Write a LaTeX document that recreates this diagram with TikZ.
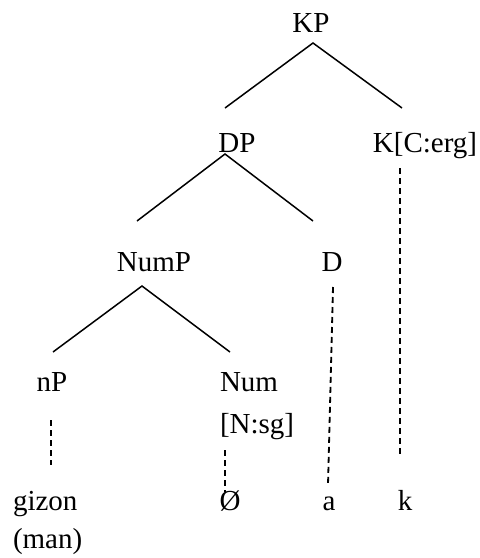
\documentclass[tikz,border=0pt]{standalone}
\usepackage{fontspec}
\setmainfont{Liberation Serif}
\begin{document}
\begin{tikzpicture}[x=1pt,y=-1pt,
  lbl/.style={inner sep=0pt,outer sep=0pt,anchor=base,font=\fontsize{29}{34}\selectfont},
  lblw/.style={lbl,anchor=base west},
  branch/.style={line width=1.5pt},
  dashline/.style={line width=1.8pt,dash pattern=on 6pt off 4pt}]
\useasboundingbox (0,0) rectangle (480,558);
% labels
\node[lbl] (KP) at (311,32) {KP};
\node[lbl] (DP) at (237,152) {DP};
\node[lbl] (K) at (425,152) {K[C:erg]};
\node[lbl] (NumP) at (154,271) {NumP};
\node[lbl] (D) at (332,271) {D};
\node[lbl] (nP) at (52,391) {nP};
\node[lblw] (Num) at (220,391) {Num};
\node[lblw] (Nsg) at (220,433) {[N:sg]};
\node[lblw] (gizon) at (13,510) {gizon};
\node[lblw] (man) at (13,548) {(man)};
\node[lbl] (zero) at (230,510) {Ø};
\node[lbl] (a) at (329,510) {a};
\node[lbl] (k) at (405,510) {k};
% branch points
\coordinate (KPb) at (313,43);
\coordinate (DPt) at (225,108);
\coordinate (Kt) at (402,108);
\coordinate (DPb) at (225,154);
\coordinate (NumPt) at (137,221);
\coordinate (Dt) at (313,221);
\coordinate (NumPb) at (142,286);
\coordinate (nPt) at (53,352);
\coordinate (Numt) at (230,352);
% dashed ends
\coordinate (Kb) at (400,168);
\coordinate (kt) at (400,456);
\coordinate (Db) at (333,287);
\coordinate (at) at (328,485);
\coordinate (nPb) at (51,420);
\coordinate (gizt) at (51,465);
\coordinate (Nsgb) at (225,450);
\coordinate (zerot) at (225,492);
% solid branches
\draw[branch] (DPt) -- (KPb) -- (Kt);
\draw[branch] (NumPt) -- (DPb) -- (Dt);
\draw[branch] (nPt) -- (NumPb) -- (Numt);
% dashed lines
\draw[dashline] (Kb) -- (kt);
\draw[dashline] (Db) -- (at);
\draw[dashline] (nPb) -- (gizt);
\draw[dashline] (Nsgb) -- (zerot);
\end{tikzpicture}
\end{document}
